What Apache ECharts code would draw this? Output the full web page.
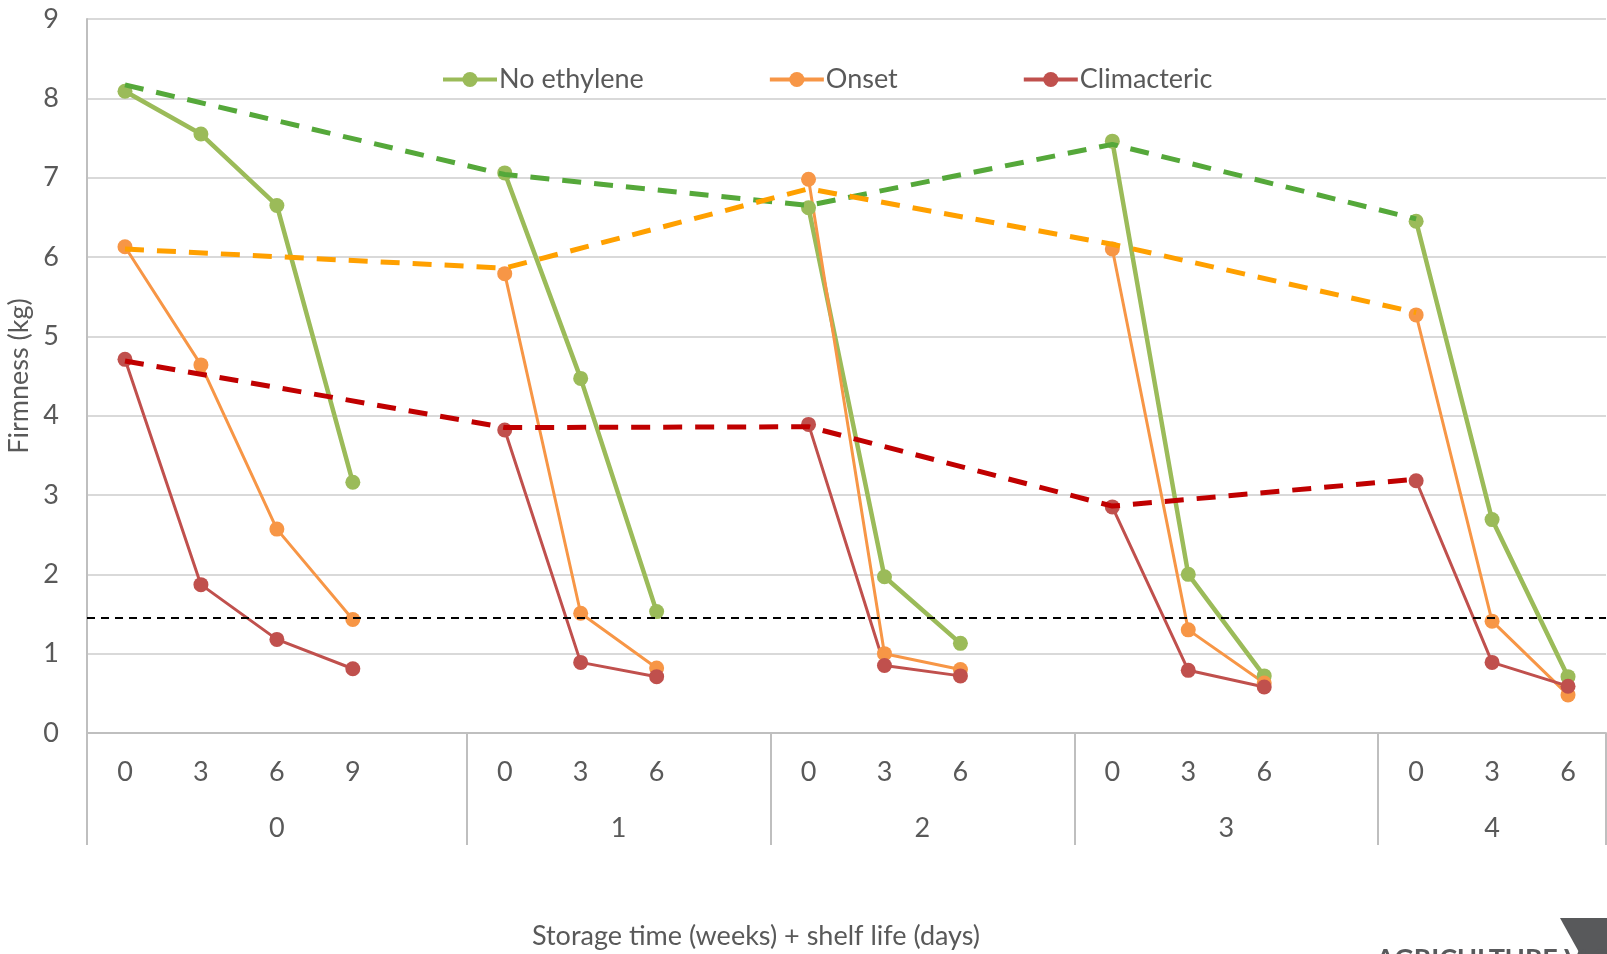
<!DOCTYPE html>
<html>
<head>
<meta charset="utf-8">
<title>Firmness during storage and shelf life</title>
<script src="https://cdn.jsdelivr.net/npm/echarts@6/dist/echarts.min.js"></script>
<style>
  html, body { margin: 0; padding: 0; background: #fff; }
  #chart { width: 1607px; height: 954px; }
</style>
</head>
<body>
<div id="chart"></div>
<script>
// Storage time in weeks, and the shelf-life days sampled after each removal
const storageWeeks = ['0', '1', '2', '3', '4'];
const shelfDays = [
  ['0', '3', '6', '9'],
  ['0', '3', '6'],
  ['0', '3', '6'],
  ['0', '3', '6'],
  ['0', '3', '6']
];

// Firmness (kg) per week, one value per shelf-life day
const noEthylene = [
  [8.09, 7.55, 6.65, 3.16],
  [7.06, 4.47, 1.53],
  [6.62, 1.97, 1.13],
  [7.46, 2.00, 0.72],
  [6.45, 2.69, 0.71]
];
const onset = [
  [6.13, 4.64, 2.57, 1.43],
  [5.79, 1.51, 0.82],
  [6.98, 1.00, 0.80],
  [6.10, 1.30, 0.63],
  [5.27, 1.41, 0.48]
];
const climacteric = [
  [4.71, 1.87, 1.18, 0.81],
  [3.82, 0.89, 0.71],
  [3.89, 0.85, 0.72],
  [2.85, 0.79, 0.58],
  [3.18, 0.89, 0.59]
];

// Firmness at removal from storage (start of each shelf-life run)
const noEthyleneTrend = [8.17, 7.04, 6.65, 7.42, 6.48];
const onsetTrend = [6.10, 5.86, 6.86, 6.16, 5.30];
const climactericTrend = [4.69, 3.85, 3.86, 2.86, 3.20];

// Eating-ripe firmness threshold (kg)
const ripeThreshold = 1.45;

// Y axis ticks
const yMin = 0, yMax = 9, yStep = 1;

// ---- build the flat category axis: each week's days, then a blank spacer slot
const categories = [];
const weekStart = [];
shelfDays.forEach((days, w) => {
  weekStart.push(categories.length);
  days.forEach(d => categories.push(d));
  if (w < shelfDays.length - 1) categories.push('');
});
const slotCount = categories.length;
const weekEnd = weekStart.slice(1).concat([slotCount]);

function flatten(groups) {
  const out = [];
  groups.forEach((g, w) => {
    g.forEach(v => out.push(v));
    if (w < groups.length - 1) out.push(null);
  });
  return out;
}
function atWeekStarts(vals) {
  const out = new Array(slotCount).fill(null);
  vals.forEach((v, w) => { out[weekStart[w]] = v; });
  return out;
}

const weekBounds = weekStart.concat([slotCount]);
const weekCenters = weekStart.map((s, w) => (s + weekEnd[w]) / 2);
const weekLabelAt = {};
weekCenters.forEach((c, w) => { weekLabelAt[c] = storageWeeks[w]; });

const FONT = 'Lato, "Open Sans", sans-serif';
const TXT = '#595959';
const FS = 27;

const solid = (name, data, color, width) => ({
  name, type: 'line', data,
  xAxisIndex: 0,
  connectNulls: false,
  symbol: 'circle', symbolSize: 15,
  itemStyle: { color },
  lineStyle: { color, width },
  animation: false,
  z: 3
});
const trend = (name, data, color) => ({
  name, type: 'line', data,
  xAxisIndex: 0,
  connectNulls: true,
  showSymbol: false, symbol: 'none',
  lineStyle: { color, width: 5, type: [19, 13] },
  animation: false,
  silent: true,
  z: 4
});

const chart = echarts.init(document.getElementById('chart'), null, { renderer: 'canvas' });

const redTrend = trend('Climacteric at removal', atWeekStarts(climactericTrend), '#C00000');
redTrend.markLine = {
  symbol: 'none',
  silent: true,
  label: { show: false },
  lineStyle: { color: '#000000', width: 2, type: [8, 6] },
  data: [{ yAxis: ripeThreshold }]
};

chart.setOption({
  backgroundColor: '#ffffff',
  animation: false,
  textStyle: { fontFamily: FONT },
  grid: { left: 87, right: 1, top: 19, bottom: 221, containLabel: false, outerBoundsMode: 'none' },
  legend: {
    data: ['No ethylene', 'Onset', 'Climacteric'],
    left: 436, top: 61,
    itemWidth: 54, itemHeight: 19, itemGap: 124,
    lineStyle: { width: 4 },
    textStyle: { color: TXT, fontSize: FS, fontFamily: FONT, padding: [0, 0, 0, -3] }
  },
  xAxis: [
    {
      type: 'category',
      data: categories,
      boundaryGap: true,
      position: 'bottom',
      axisLine: { show: true, lineStyle: { color: '#bfbfbf', width: 2 } },
      axisTick: { show: false },
      axisLabel: { interval: 0, margin: 26, color: TXT, fontSize: FS, fontFamily: FONT },
      splitLine: { show: false }
    },
    {
      type: 'value',
      min: 0, max: slotCount,
      position: 'bottom',
      axisLine: { show: false },
      splitLine: { show: false },
      axisTick: {
        show: true, length: 112, inside: false,
        customValues: weekBounds,
        lineStyle: { color: '#bfbfbf', width: 2 }
      },
      axisLabel: {
        show: true, margin: 82, color: TXT, fontSize: FS, fontFamily: FONT,
        customValues: weekCenters,
        formatter: v => weekLabelAt[v] ?? ''
      }
    }
  ],
  yAxis: {
    type: 'value',
    min: yMin, max: yMax, interval: yStep,
    name: 'Firmness (kg)',
    nameLocation: 'middle',
    nameGap: 53,
    nameTextStyle: { color: TXT, fontSize: FS, fontFamily: FONT },
    axisLine: { show: true, lineStyle: { color: '#bfbfbf', width: 2 } },
    axisTick: { show: false },
    axisLabel: { color: TXT, fontSize: FS, fontFamily: FONT, margin: 28 },
    splitLine: { show: true, lineStyle: { color: '#d9d9d9', width: 2 } }
  },
  series: [
    solid('No ethylene', flatten(noEthylene), '#9BBB59', 4.5),
    solid('Onset', flatten(onset), '#F79646', 3),
    solid('Climacteric', flatten(climacteric), '#C0504D', 3),
    trend('No ethylene at removal', atWeekStarts(noEthyleneTrend), '#55A83A'),
    trend('Onset at removal', atWeekStarts(onsetTrend), '#FFA000'),
    redTrend
  ],
  graphic: [
    {
      type: 'text',
      x: 756, y: 936,
      style: {
        text: 'Storage time (weeks) + shelf life (days)',
        fill: TXT, font: FS + 'px ' + FONT,
        align: 'center', verticalAlign: 'middle'
      }
    },
    {
      type: 'polygon',
      shape: { points: [[1560, 918], [1607, 918], [1607, 954], [1580, 954]] },
      style: { fill: '#58595b' }
    },
    {
      type: 'text',
      x: 1376, y: 946,
      style: {
        text: 'AGRICULTURE VICTORIA',
        fill: '#58595b', font: 'bold 27px ' + FONT,
        align: 'left', verticalAlign: 'top'
      }
    }
  ]
});
</script>
</body>
</html>
